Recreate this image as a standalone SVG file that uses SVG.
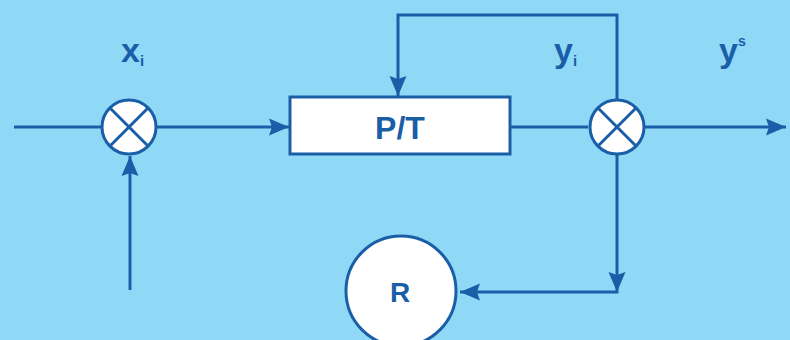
<svg xmlns="http://www.w3.org/2000/svg" width="790" height="340" viewBox="0 0 790 340">
<defs>
<marker id="ah" markerUnits="userSpaceOnUse" markerWidth="21" markerHeight="18" refX="20" refY="9" orient="auto">
<path d="M0,0.5 L20,9 L0,17.5 L3,9 Z" fill="#1B5EA8"/>
</marker>
</defs>
<style>
.ln{fill:none;stroke:#1B5EA8;stroke-width:3}
.nd{fill:#fff;stroke:#1B5EA8;stroke-width:3}
.t{font-family:"Liberation Sans",Arial,sans-serif;font-weight:bold;fill:#1B5EA8}
</style>
<rect width="790" height="340" fill="#8FD9F6"/>
<g id="connectors">
<line class="ln" x1="14" y1="127" x2="101" y2="127"/>
<line class="ln" x1="157" y1="127" x2="289" y2="127" marker-end="url(#ah)"/>
<line class="ln" x1="130" y1="290" x2="130" y2="156" marker-end="url(#ah)"/>
<line class="ln" x1="510" y1="127" x2="588" y2="127"/>
<polyline class="ln" points="617,99 617,15 398,15 398,96" marker-end="url(#ah)"/>
<line class="ln" x1="645" y1="127" x2="786" y2="127" marker-end="url(#ah)"/>
<polyline class="ln" points="617,155 617,292 460,292" marker-end="url(#ah)"/>
<path d="M608.5,272 L617,292 L625.5,272 L617,275 Z" fill="#1B5EA8"/>
</g>
<g id="mixer1">
<circle class="nd" cx="129" cy="127" r="27"/>
<line class="ln" x1="110" y1="108" x2="148" y2="146"/>
<line class="ln" x1="148" y1="108" x2="110" y2="146"/>
</g>
<g id="mixer2">
<circle class="nd" cx="617" cy="127" r="27"/>
<line class="ln" x1="598" y1="108" x2="636" y2="146"/>
<line class="ln" x1="636" y1="108" x2="598" y2="146"/>
</g>
<g id="pt">
<rect class="nd" x="290" y="97" width="220" height="57"/>
<text class="t" x="400" y="139" font-size="32" text-anchor="middle">P/T</text>
</g>
<g id="r">
<circle class="nd" cx="401" cy="291" r="55"/>
<text class="t" x="400" y="302" font-size="28" text-anchor="middle">R</text>
</g>
<g id="labels">
<text class="t" x="121" y="62" font-size="34">x<tspan font-size="15" dy="4">i</tspan></text>
<text class="t" x="554" y="62" font-size="34">y<tspan font-size="15" dy="4">i</tspan></text>
<text class="t" x="719" y="62" font-size="34">y<tspan font-size="14" dy="-16">s</tspan></text>
</g>
</svg>
